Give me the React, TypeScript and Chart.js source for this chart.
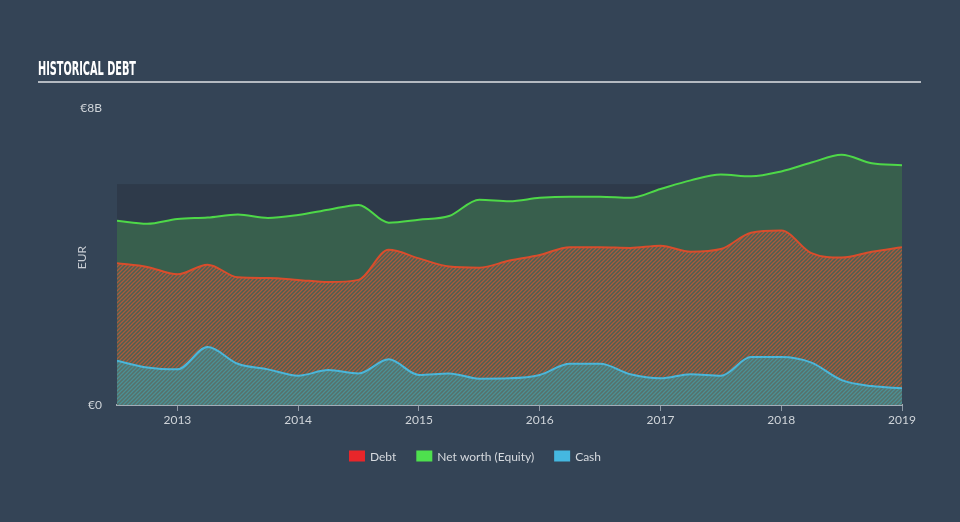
import React, { useEffect, useRef } from "react";
import { Chart, registerables } from "chart.js";

Chart.register(...registerables);

const xYears = [
  2012.5, 2012.75, 2013.0, 2013.25, 2013.5, 2013.75, 2014.0, 2014.25, 2014.5,
  2014.75, 2015.0, 2015.25, 2015.5, 2015.75, 2016.0, 2016.25, 2016.5, 2016.75,
  2017.0, 2017.25, 2017.5, 2017.75, 2018.0, 2018.25, 2018.5, 2018.75, 2019.0,
];
const debt = [
  3.82, 3.72, 3.52, 3.78, 3.44, 3.42, 3.37, 3.31, 3.37, 4.18, 3.95, 3.73, 3.7,
  3.89, 4.04, 4.25, 4.25, 4.23, 4.29, 4.13, 4.2, 4.64, 4.7, 4.09, 3.97, 4.13, 4.25,
];
const netWorth = [
  4.96, 4.88, 5.01, 5.05, 5.13, 5.04, 5.12, 5.26, 5.39, 4.91, 4.99, 5.09, 5.53,
  5.49, 5.58, 5.61, 5.61, 5.58, 5.82, 6.05, 6.21, 6.16, 6.29, 6.53, 6.74, 6.51, 6.46,
];
const cash = [
  1.19, 1.01, 0.96, 1.56, 1.11, 0.96, 0.79, 0.94, 0.85, 1.23, 0.81, 0.85, 0.71,
  0.72, 0.81, 1.11, 1.11, 0.83, 0.72, 0.83, 0.79, 1.29, 1.29, 1.14, 0.67, 0.51, 0.45,
];
const xTickYears = [2013, 2014, 2015, 2016, 2017, 2018, 2019];
const yTickValues = [0, 8];
const seriesLabels = ["Debt", "Net worth (Equity)", "Cash"];
const legendColors = ["#e8262a", "#4ee04e", "#45b8e0"];
const titleText = "HISTORICAL DEBT";
const axisTitle = "EUR";
const bandTop = 5.95;

const BG = "#344456";
const BAND = "#2e3a4a";
const FONT = "Lato, 'Open Sans', sans-serif";

function makeHatch(bg: string, fg: string) {
  const c = document.createElement("canvas");
  c.width = 4;
  c.height = 4;
  const x = c.getContext("2d")!;
  x.fillStyle = bg;
  x.fillRect(0, 0, 4, 4);
  x.strokeStyle = fg;
  x.lineWidth = 1.3;
  x.beginPath();
  x.moveTo(-1, 1);
  x.lineTo(1, -1);
  x.moveTo(0, 4);
  x.lineTo(4, 0);
  x.moveTo(3, 5);
  x.lineTo(5, 3);
  x.stroke();
  return x.createPattern(c, "repeat")!;
}

export default function App() {
  const ref = useRef<HTMLCanvasElement>(null);

  useEffect(() => {
    const canvas = ref.current!;
    const ctx = canvas.getContext("2d")!;
    const debtPattern = makeHatch("#4c6052", "#a95a3d");
    const cashPattern = makeHatch("#58706a", "#4a9196");

    const decor = {
      id: "decor",
      beforeDraw(chart: any) {
        const c = chart.ctx;
        const { left, right, bottom } = chart.chartArea;
        c.save();
        c.fillStyle = BG;
        c.fillRect(0, 0, chart.width, chart.height);
        const yTop = chart.scales.y.getPixelForValue(bandTop);
        c.fillStyle = BAND;
        c.fillRect(left, yTop, right - left, bottom - yTop);
        c.restore();
      },
      afterDraw(chart: any) {
        const c = chart.ctx;
        c.save();
        c.font = "bold 20px 'DejaVu Sans Condensed', 'Liberation Sans', sans-serif";
        c.fillStyle = "#ffffff";
        c.textBaseline = "alphabetic";
        const w = c.measureText(titleText).width;
        c.translate(38, 75);
        c.scale(98 / w, 1);
        c.fillText(titleText, 0, 0);
        c.restore();

        c.save();
        c.strokeStyle = "#b4bac1";
        c.lineWidth = 2;
        c.beginPath();
        c.moveTo(38, 82);
        c.lineTo(921, 82);
        c.stroke();

        const { top, bottom } = chart.chartArea;
        c.translate(82, (top + bottom) / 2 + 1);
        c.rotate(-Math.PI / 2);
        c.font = `12px ${FONT}`;
        c.fillStyle = "#c9ced4";
        c.textAlign = "center";
        c.textBaseline = "middle";
        c.fillText(axisTitle, 0, 0);
        c.restore();

        c.save();
        c.font = `12px ${FONT}`;
        c.textBaseline = "middle";
        const boxW = 16, boxH = 11, gapText = 5, gapItem = 20;
        const widths = seriesLabels.map((l) => boxW + gapText + c.measureText(l).width);
        const total = widths.reduce((a, b) => a + b, 0) + gapItem * (widths.length - 1);
        let x = 475 - total / 2;
        const yc = 456;
        seriesLabels.forEach((l, i) => {
          c.fillStyle = legendColors[i];
          c.fillRect(x, yc - boxH / 2, boxW, boxH);
          c.fillStyle = "#d5d9de";
          c.fillText(l, x + boxW + gapText, yc + 1);
          x += widths[i] + gapItem;
        });
        c.restore();
      },
    };

    const mk = (arr: number[]) => arr.map((v, i) => ({ x: xYears[i], y: v }));

    const chart = new Chart(ctx, {
      type: "line",
      data: {
        datasets: [
          {
            label: seriesLabels[0],
            data: mk(debt),
            borderColor: "#d94d2c",
            backgroundColor: debtPattern as any,
            fill: "origin",
            borderWidth: 2,
            order: 2,
          },
          {
            label: seriesLabels[1],
            data: mk(netWorth),
            borderColor: "#4ed848",
            backgroundColor: "#385f4d",
            fill: "origin",
            borderWidth: 2,
            order: 3,
          },
          {
            label: seriesLabels[2],
            data: mk(cash),
            borderColor: "#4ab6da",
            backgroundColor: cashPattern as any,
            fill: "origin",
            borderWidth: 2,
            order: 1,
          },
        ],
      },
      options: {
        responsive: false,
        animation: false,
        events: [],
        elements: {
          point: { radius: 0 },
          line: { cubicInterpolationMode: "monotone" },
        },
        layout: { padding: { top: 108, right: 58, bottom: 0, left: 0 } },
        plugins: {
          legend: { display: false },
          tooltip: { enabled: false },
        },
        scales: {
          x: {
            type: "linear",
            min: xYears[0],
            max: xYears[xYears.length - 1],
            afterBuildTicks: (s: any) => {
              s.ticks = xTickYears.map((v) => ({ value: v }));
            },
            afterFit: (s: any) => {
              s.height = 522 - 405;
            },
            grid: {
              display: true,
              drawOnChartArea: false,
              drawTicks: true,
              tickLength: 6,
              color: "#8f9aa6",
              lineWidth: 1,
            },
            border: { display: true, color: "#a3acb6", width: 2 },
            ticks: {
              color: "#cfd4d9",
              font: { size: 12, family: FONT },
              padding: 2,
              maxRotation: 0,
              callback: (v: any) => String(v),
            },
          },
          y: {
            type: "linear",
            min: 0,
            max: 8,
            afterBuildTicks: (s: any) => {
              s.ticks = yTickValues.map((v) => ({ value: v }));
            },
            afterFit: (s: any) => {
              s.width = 117;
            },
            grid: { display: false, drawTicks: false },
            border: { display: false },
            ticks: {
              color: "#cfd4d9",
              font: { size: 12, family: FONT },
              padding: 15,
              callback: (v: any) => (v === 0 ? "€0" : `€${v}B`),
            },
          },
        },
      },
      plugins: [decor],
    });

    return () => chart.destroy();
  }, []);

  return (
    <div style={{ position: "absolute", left: 0, top: 0, width: 960, height: 522, background: BG }}>
      <canvas ref={ref} width={960} height={522} style={{ display: "block" }} />
    </div>
  );
}
